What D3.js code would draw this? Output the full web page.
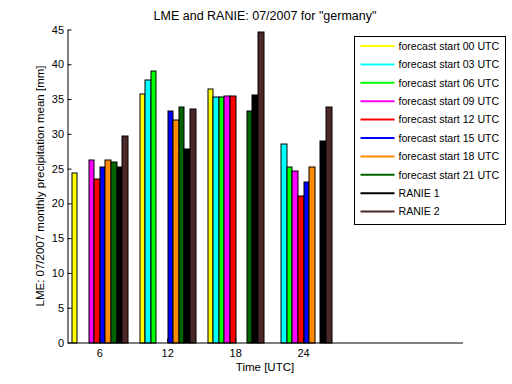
<!DOCTYPE html>
<html>
<head>
<meta charset="utf-8">
<script src="https://cdn.jsdelivr.net/npm/d3@7"></script>
<style>
    body { margin: 0; background: #fff; }
    text { font-family: "Liberation Sans", Arial, sans-serif; fill: #000; }
</style>
</head>
<body>
<div id="chart"></div>
<script>

/* chart values */
var hours = [6, 12, 18, 24];
var seriesNames = ["forecast start 00 UTC", "forecast start 03 UTC", "forecast start 06 UTC",
    "forecast start 09 UTC", "forecast start 12 UTC", "forecast start 15 UTC",
    "forecast start 18 UTC", "forecast start 21 UTC", "RANIE 1", "RANIE 2"];
var seriesColors = ["#ffff00", "#00ffff", "#00ff00", "#ff00ff", "#ff0000",
    "#0000ff", "#ff8c00", "#006400", "#000000", "#4d2828"];

var fc00 = [24.4, 35.8, 36.5, NaN];
var fc03 = [NaN, 37.8, 35.35, 28.6];
var fc06 = [NaN, 39.1, 35.35, 25.3];
var fc09 = [26.3, NaN, 35.5, 24.7];
var fc12 = [23.55, NaN, 35.5, 21.15];
var fc15 = [25.3, 33.3, NaN, 23.2];
var fc18 = [26.3, 32.1, NaN, 25.3];
var fc21 = [26.0, 33.9, 33.4, NaN];
var ranie1 = [25.3, 27.9, 35.7, 29.1];
var ranie2 = [29.7, 33.6, 44.7, 33.9];
var seriesValues = [fc00, fc03, fc06, fc09, fc12, fc15, fc18, fc21, ranie1, ranie2];

var yTicks = [0, 5, 10, 15, 20, 25, 30, 35, 40, 45];

render();

function render() {

    var w = 512, h = 384;
    var margin = {top: 29.5, right: 49.5, bottom: 41.5, left: 67.5},
        width = w - margin.left - margin.right,
        height = h - margin.top - margin.bottom;

    var svg = d3.select("#chart").append("svg")
        .attr("width", w)
        .attr("height", h);

    var g = svg.append("g")
        .attr("transform", "translate(" + margin.left + "," + margin.top + ")");

    var x = d3.scaleLinear().domain([3.2, 38.07]).range([0, width]);
    var y = d3.scaleLinear().domain([0, 45]).range([height, 0]);

    // bars inside one group, offsets in data units
    var groupWidth = 4.94;
    var inner = d3.scaleBand()
        .domain(d3.range(seriesNames.length))
        .range([-groupWidth / 2, groupWidth / 2]);

    var bars = [];
    seriesValues.forEach(function (vals, s) {
        vals.forEach(function (v, i) {
            if (!isNaN(v)) bars.push({s: s, hour: hours[i], value: v});
        });
    });

    g.selectAll(".bar")
        .data(bars)
        .enter().append("rect")
        .attr("class", "bar")
        .attr("x", function (d) {
            return Math.round(x(d.hour + inner(d.s))) + 0.5;
        })
        .attr("y", function (d) {
            return Math.round(y(d.value)) + 0.5;
        })
        .attr("width", function (d) {
            return Math.round(x(d.hour + inner(d.s) + inner.bandwidth())) - Math.round(x(d.hour + inner(d.s)));
        })
        .attr("height", function (d) {
            return Math.round(height) - Math.round(y(d.value));
        })
        .style("fill", function (d) {
            return seriesColors[d.s];
        })
        .style("stroke", "#000")
        .style("stroke-width", 1);

    // axes, ticks inward
    var yAxis = d3.axisLeft(y).tickValues(yTicks).tickSizeInner(-4).tickSizeOuter(0).tickPadding(10);
    var xAxis = d3.axisBottom(x).tickValues(hours).tickSizeInner(-4).tickSizeOuter(0).tickPadding(10);

    var ya = g.append("g").call(yAxis);
    var xa = g.append("g").attr("transform", "translate(0," + height + ")").call(xAxis);

    [ya, xa].forEach(function (a) {
        a.select(".domain").attr("stroke", "#000");
        a.selectAll("line").attr("stroke", "#000");
        a.selectAll("text").style("font-size", "11px")
            .style("font-family", "'Liberation Sans', Arial, sans-serif");
    });
    ya.selectAll(".tick text").attr("dx", "0.6em");
    xa.selectAll(".tick text").attr("dy", "0.4em");

    svg.append("text")
        .attr("x", margin.left + width / 2)
        .attr("y", 20)
        .attr("text-anchor", "middle")
        .style("font-size", "12.5px")
        .text("LME and RANIE: 07/2007 for \"germany\"");

    svg.append("text")
        .attr("x", margin.left + width / 2)
        .attr("y", 371)
        .attr("text-anchor", "middle")
        .style("font-size", "11.5px")
        .text("Time [UTC]");

    svg.append("text")
        .attr("transform", "translate(44," + (margin.top + height / 2) + ") rotate(-90)")
        .attr("text-anchor", "middle")
        .style("font-size", "11.5px")
        .text("LME: 07/2007 monthly precipitation mean [mm]");

    /* legend */
    var legend = svg.append("g").attr("transform", "translate(354.5,36.5)");

    legend.append("rect")
        .attr("width", 151)
        .attr("height", 188)
        .style("fill", "#fff")
        .style("stroke", "#000");

    var item = legend.selectAll(".item")
        .data(seriesNames)
        .enter().append("g")
        .attr("class", "item")
        .attr("transform", function (d, i) {
            return "translate(0," + (9.5 + i * 18.4) + ")";
        });

    item.append("line")
        .attr("x1", 6)
        .attr("x2", 40)
        .style("stroke", function (d, i) {
            return seriesColors[i];
        })
        .style("stroke-width", 2);

    item.append("text")
        .attr("x", 44)
        .attr("dy", "0.35em")
        .style("font-size", "10.6px")
        .text(function (d) {
            return d;
        });
}

</script>
</body>
</html>
